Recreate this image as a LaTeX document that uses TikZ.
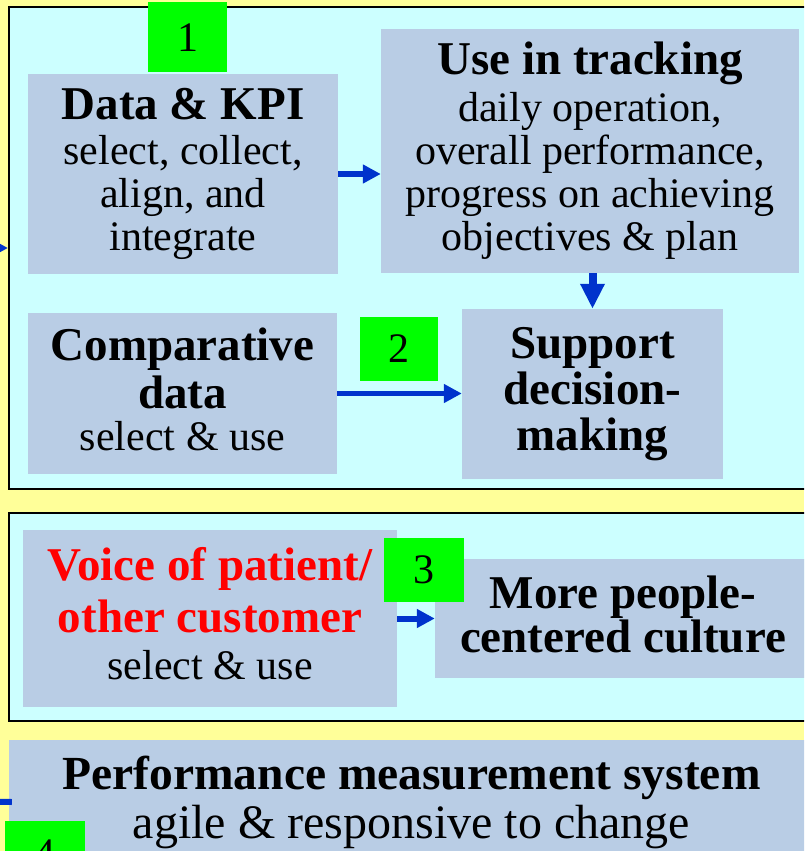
\documentclass[tikz,border=0pt]{standalone}
\usepackage{fontspec}
\setmainfont{Liberation Serif}
\usetikzlibrary{arrows.meta}
\definecolor{bgyellow}{HTML}{FFFF99}
\definecolor{panelcyan}{HTML}{CCFFFF}
\definecolor{boxblue}{HTML}{B9CDE5}
\definecolor{numgreen}{HTML}{00FF00}
\definecolor{arrowblue}{HTML}{0033CC}
\definecolor{vocred}{HTML}{FF0000}
\newcommand\boxtitle[1]{{\fontsize{47}{47}\selectfont\bfseries #1}}
\begin{document}
\begin{tikzpicture}[x=1pt,y=-1pt,
  panel/.style={draw=black,line width=2pt,fill=panelcyan,inner sep=0pt},
  box/.style={fill=boxblue,inner sep=0pt,align=center,font=\fontsize{42}{43}\selectfont},
  boldbox/.style={fill=boxblue,inner sep=0pt,align=center,font=\fontsize{47}{46}\selectfont\bfseries},
  num/.style={fill=numgreen,inner sep=0pt,font=\fontsize{42}{42}\selectfont},
  conn/.style={draw=arrowblue,line width=5.5pt,-{Triangle[length=18pt,width=18pt]}},
  bigconn/.style={draw=arrowblue,line width=8pt,-{Triangle[length=25pt,width=23pt]}},
  stub/.style={draw=arrowblue,line width=6pt},
]
\useasboundingbox (0,0) rectangle (804,851);
\clip (0,0) rectangle (804,851);
\fill[bgyellow] (0,0) rectangle (804,851);

% panels
\node[panel,minimum width=811pt,minimum height=482pt] (p1) at (414.5,248) {};
\node[panel,minimum width=811pt,minimum height=208pt] (p2) at (414.5,617) {};

% top panel boxes
\node[box,minimum width=310pt,minimum height=200pt] (kpi) at (183,174)
  {\boxtitle{Data \& KPI}\\[2pt] select, collect,\\ align, and\\ integrate};
\node[box,minimum width=418pt,minimum height=244pt] (use) at (590,151)
  {\boxtitle{Use in tracking}\\[4pt] daily operation,\\ overall performance,\\ progress on achieving\\ objectives \& plan};
\node[box,minimum width=309pt,minimum height=161pt,text depth=9pt] (comp) at (182.5,393.5)
  {\boxtitle{Comparative}\\[5pt] \boxtitle{data}\\[-1pt] select \& use};
\node[boldbox,minimum width=261pt,minimum height=170pt] (sup) at (592.5,394)
  {Support\\ decision-\\ making};

% second panel boxes
\node[box,minimum width=374pt,minimum height=177pt,text depth=10pt] (voice) at (210,618.5)
  {\textcolor{vocred}{\boxtitle{Voice of patient/}}\\[9pt]
   \textcolor{vocred}{\boxtitle{other customer}}\\[4pt] select \& use};
\node[boldbox,minimum width=376pt,minimum height=119pt,text depth=9pt] (more) at (623,618.5)
  {More people-\\[-2pt] centered culture};

% bottom box
\node[fill=boxblue,inner sep=0pt,align=center,minimum width=805pt,minimum height=124pt,
  font=\fontsize{48}{49}\selectfont] (pms) at (411.5,802)
  {{\fontsize{47.5}{47.5}\selectfont\bfseries Performance measurement system}\\ agile \& responsive to change};

% number tags
\node[num,minimum width=79pt,minimum height=70pt] (n1) at (187.5,37.5) {1};
\node[num,minimum width=78pt,minimum height=64pt] (n2) at (399,349) {2};
\node[num,minimum width=80pt,minimum height=64pt] (n3) at (424,570) {3};
\node[num,minimum width=80pt,minimum height=66pt] (n4) at (45,854) {4};

% connectors
\draw[conn] (kpi.east) -- (use.west |- kpi.east);
\draw[bigconn] (sup.north |- use.south) -- (sup.north);
\draw[conn] (comp.east) -- (sup.west |- comp.east);
\draw[conn,line width=6pt] (voice.east) -- (more.west |- voice.east);

\coordinate (inL) at (-40,248);
\draw[conn] (inL) -- (p1.west);
\coordinate (outL) at (-40,801);
\draw[stub] ([xshift=3pt]pms.west) -- (outL);
\end{tikzpicture}
\end{document}
